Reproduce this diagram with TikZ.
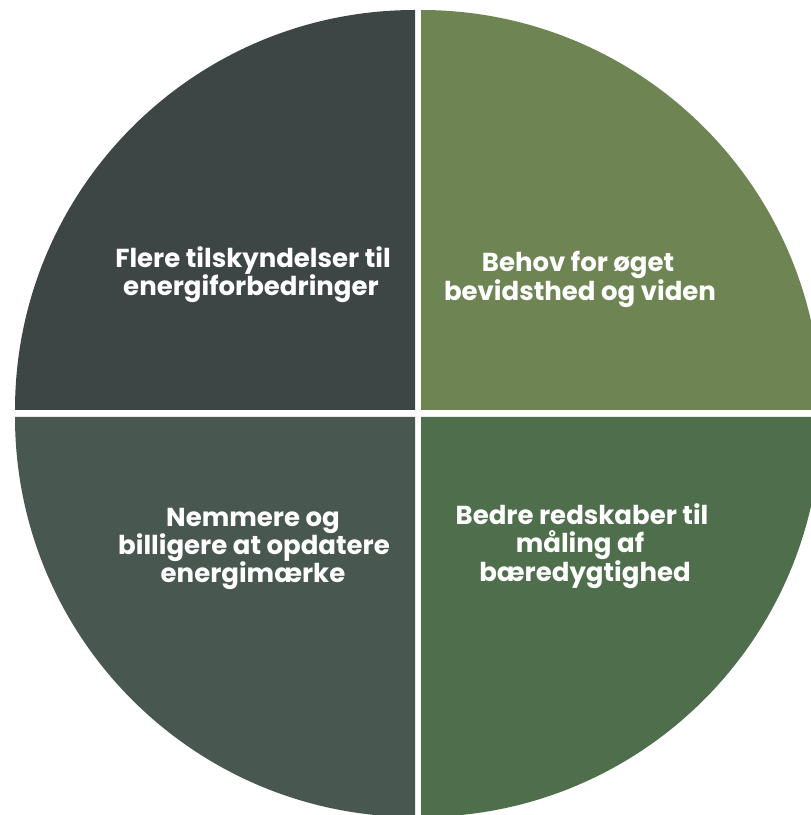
\documentclass[tikz,border=0pt]{standalone}
\usepackage{fontspec}
\setmainfont{Poppins}
\definecolor{qtl}{HTML}{3E4545}
\definecolor{qtr}{HTML}{6E8553}
\definecolor{qbl}{HTML}{485850}
\definecolor{qbr}{HTML}{4E6E4C}
\tikzset{
  lbl/.style={text=white, font=\fontsize{26}{30}\selectfont\bfseries, inner sep=0pt, anchor=base}
}
\begin{document}
\begin{tikzpicture}[x=1pt,y=1pt]
\useasboundingbox (0,0) rectangle (811,815);
\begin{scope}
\clip (0,0) rectangle (811,815);
\fill[qtl] (415,405) -- (415,805) arc[start angle=90,end angle=180,radius=400pt] -- cycle;
\fill[qtr] (421,405) -- (821,405) arc[start angle=0,end angle=90,radius=400pt] -- cycle;
\fill[qbl] (415,398) -- (15,398) arc[start angle=180,end angle=270,radius=400pt] -- cycle;
\fill[qbr] (421,398) -- (421,-2) arc[start angle=270,end angle=360,radius=400pt] -- cycle;
\end{scope}
\node[lbl] (tl1) at (253,547) {Flere tilskyndelser til};
\node[lbl] (tl2) at (251,519) {energiforbedringer};
\node[lbl] (tr1) at (578,543) {Behov for øget};
\node[lbl] (tr2) at (580,514) {bevidsthed og viden};
\node[lbl] (bl1) at (253,288) {Nemmere og};
\node[lbl] (bl2) at (254,260) {billigere at opdatere};
\node[lbl] (bl3) at (253,232) {energimærke};
\node[lbl] (br1) at (582,290) {Bedre redskaber til};
\node[lbl] (br2) at (580,262) {måling af};
\node[lbl] (br3) at (585,233) {bæredygtighed};
\end{tikzpicture}
\end{document}
